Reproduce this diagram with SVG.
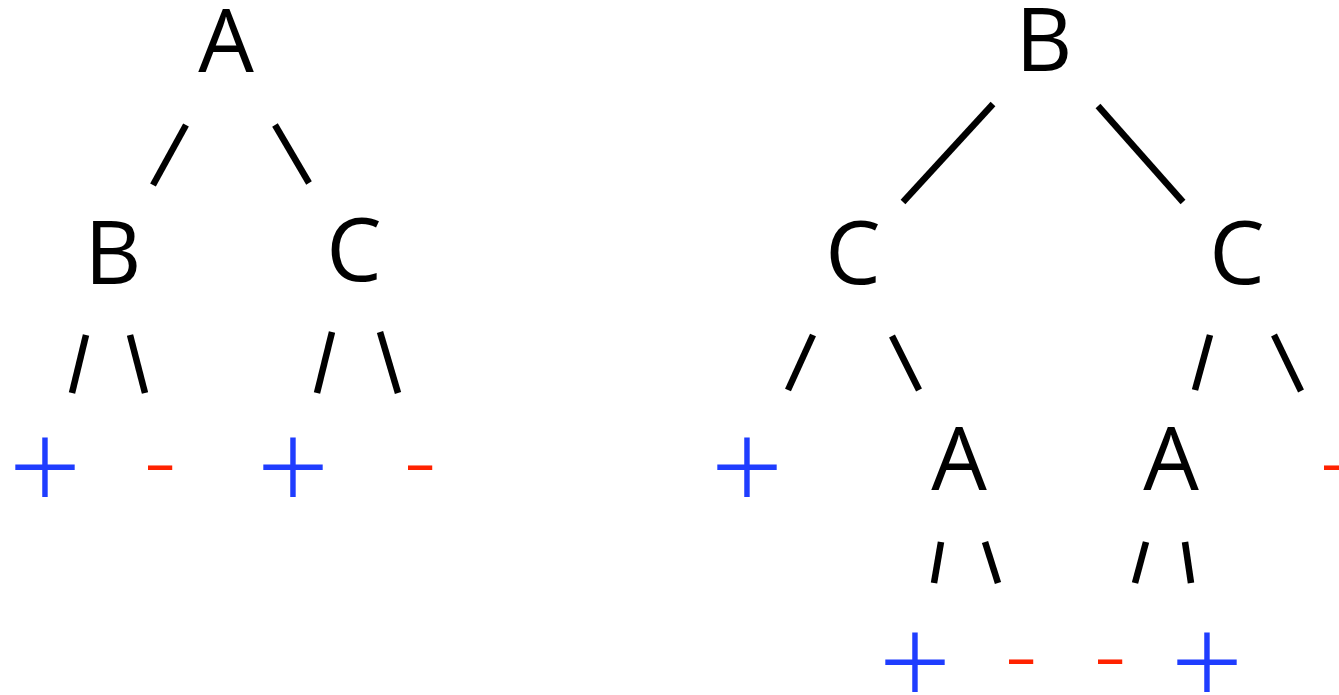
<svg xmlns="http://www.w3.org/2000/svg" width="1339" height="695" viewBox="0 0 1339 695">
<style>
.lbl{font-family:"Open Sans","DejaVu Sans",sans-serif;font-size:88px;fill:#000;text-anchor:middle}
.pos{font-family:"Open Sans","DejaVu Sans",sans-serif;font-weight:300;font-size:128px;fill:#1f3dff;text-anchor:middle}
.neg{font-family:"Open Sans","DejaVu Sans",sans-serif;font-weight:300;font-size:100px;fill:#ff2200;text-anchor:middle}
.edges line{stroke:#000;stroke-width:6.5;stroke-linecap:butt}
</style>
<rect width="1339" height="695" fill="#fff"/>
<g id="connectors" class="edges">
<line x1="186" y1="125" x2="153" y2="185"/>
<line x1="275" y1="125" x2="309" y2="183"/>
<line x1="86" y1="335" x2="72" y2="393"/>
<line x1="130" y1="335" x2="145" y2="393"/>
<line x1="332" y1="332" x2="317" y2="393"/>
<line x1="380" y1="332" x2="398" y2="393"/>
<line x1="993" y1="104" x2="903" y2="202"/>
<line x1="1098" y1="106" x2="1183" y2="202"/>
<line x1="813" y1="335" x2="788" y2="390"/>
<line x1="892" y1="336" x2="919" y2="390"/>
<line x1="1210" y1="335" x2="1195" y2="390"/>
<line x1="1274" y1="335" x2="1301" y2="391"/>
<line x1="941" y1="542" x2="934" y2="583"/>
<line x1="985" y1="542" x2="998" y2="583"/>
<line x1="1146" y1="542" x2="1135" y2="583"/>
<line x1="1185" y1="542" x2="1191" y2="583"/>
</g>
<g id="t1-A"><text class="lbl" x="226" y="72">A</text></g>
<g id="t1-B"><text class="lbl" x="113" y="284">B</text></g>
<g id="t1-C"><text class="lbl" x="354" y="281">C</text></g>
<g id="t1-p1"><text class="pos" x="45" y="512">+</text></g>
<g id="t1-m1"><text class="neg" x="160" y="495">-</text></g>
<g id="t1-p2"><text class="pos" x="293" y="512">+</text></g>
<g id="t1-m2"><text class="neg" x="420" y="495">-</text></g>
<g id="t2-B"><text class="lbl" x="1044" y="71">B</text></g>
<g id="t2-C1"><text class="lbl" x="853" y="284">C</text></g>
<g id="t2-C2"><text class="lbl" x="1237" y="284">C</text></g>
<g id="t2-p1"><text class="pos" x="747" y="512">+</text></g>
<g id="t2-A1"><text class="lbl" x="959" y="490">A</text></g>
<g id="t2-A2"><text class="lbl" x="1171" y="490">A</text></g>
<g id="t2-m1"><text class="neg" x="1336" y="495">-</text></g>
<g id="t2-p2"><text class="pos" x="915" y="707">+</text></g>
<g id="t2-m2"><text class="neg" x="1021" y="689">-</text></g>
<g id="t2-m3"><text class="neg" x="1110" y="689">-</text></g>
<g id="t2-p3"><text class="pos" x="1207" y="707">+</text></g>
</svg>
